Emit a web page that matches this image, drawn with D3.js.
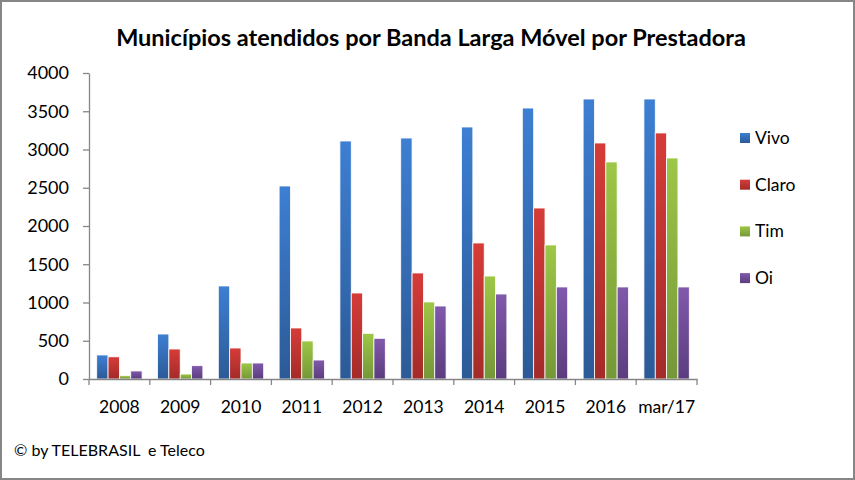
<!DOCTYPE html>
<html><head><meta charset="utf-8">
<script src="https://cdn.jsdelivr.net/npm/d3@7"></script>
<style>
html,body{margin:0;padding:0;background:#fff;}
text{font-family:Lato,"Open Sans",sans-serif;fill:#000;}
</style></head>
<body>
<svg id="chart" width="855" height="480"></svg>
<script>
const categories = ["2008","2009","2010","2011","2012","2013","2014","2015","2016","mar/17"];
const seriesNames = ["Vivo","Claro","Tim","Oi"];
const vivo  = [314, 588, 1216, 2523, 3111, 3150, 3294, 3542, 3660, 3660];
const claro = [290, 392, 405, 667, 1124, 1386, 1778, 2235, 3085, 3216];
const tim   = [43, 65, 209, 497, 597, 1007, 1346, 1752, 2837, 2889];
const oi    = [105, 174, 209, 248, 532, 954, 1111, 1203, 1203, 1203];
const yTicks = [0,500,1000,1500,2000,2500,3000,3500,4000];
const titleText = "Municípios atendidos por Banda Larga Móvel por Prestadora";
const footerText = "© by TELEBRASIL  e Teleco";

const seriesValues = [vivo, claro, tim, oi];
const colorsTop = ["#3d7fd3","#d63c38","#9dc746","#8159ac"];
const colorsBot = ["#2c5a96","#a32b29","#759738","#5b3d7e"];

const svg = d3.select("#chart");
svg.append("rect").attr("x",1).attr("y",1).attr("width",853).attr("height",478)
  .attr("fill","#fff").attr("stroke","#868686").attr("stroke-width",2);

const defs = svg.append("defs");
seriesNames.forEach((s,i)=>{
  const g = defs.append("linearGradient").attr("id","g"+i)
    .attr("x1",0).attr("y1",0).attr("x2",0).attr("y2",1);
  g.append("stop").attr("offset","0%").attr("stop-color",colorsTop[i]);
  g.append("stop").attr("offset","100%").attr("stop-color",colorsBot[i]);
});

const x = d3.scaleBand().domain(categories).range([89,697]).paddingInner(0).paddingOuter(0);
const bw = x.bandwidth();
const xs = d3.scaleBand().domain(seriesNames).range([bw*0.127, bw*0.873]).padding(0);
const y = d3.scaleLinear().domain([0,4000]).range([379,73]);

// bars
seriesNames.forEach((s,i)=>{
  svg.append("g").selectAll("rect").data(categories).join("rect")
    .attr("x", c => x(c) + xs(s))
    .attr("y", (c,j) => y(seriesValues[i][j]))
    .attr("width", xs.bandwidth())
    .attr("height", (c,j) => y(0) - y(seriesValues[i][j]))
    .attr("fill","url(#g"+i+")")
    .attr("stroke","#fff").attr("stroke-width",0.8);
});

// y axis
const yAxis = svg.append("g").attr("transform","translate(89,0)")
  .call(d3.axisLeft(y).tickValues(yTicks).tickSizeInner(6).tickSizeOuter(0).tickPadding(14).tickFormat(d3.format("d")));
yAxis.selectAll("line,path").attr("stroke","#868686").attr("stroke-width",1.3);
yAxis.selectAll("text").attr("font-size","18px").style("font-family","Lato,sans-serif").attr("fill","#000");

// x axis
const xAxis = svg.append("g").attr("transform","translate(0,379)")
  .call(d3.axisBottom(x).tickSize(0).tickPadding(22));
xAxis.select("path").attr("stroke","#868686").attr("stroke-width",1.3);
xAxis.selectAll("text").attr("font-size","17.5px").style("font-family","Lato,sans-serif").attr("fill","#000");
const bounds = categories.map(c => x(c)).concat([x.range()[1]]);
svg.append("g").selectAll("line").data(bounds).join("line")
  .attr("x1",d=>d).attr("x2",d=>d).attr("y1",379).attr("y2",385)
  .attr("stroke","#868686").attr("stroke-width",1.3);

// title
svg.append("text").attr("x",431).attr("y",46).attr("text-anchor","middle")
  .attr("font-size","23.5px").attr("font-weight","bold").text(titleText);

// legend
const lg = svg.append("g");
seriesNames.forEach((s,i)=>{
  const cy = 138 + i*46.7;
  lg.append("rect").attr("x",740).attr("y",cy-5).attr("width",10).attr("height",10)
    .attr("fill","url(#g"+i+")");
  lg.append("text").attr("x",755).attr("y",cy+6).attr("font-size","17.5px").text(s);
});

// footer
svg.append("text").attr("x",14).attr("y",456).attr("font-size","16px")
  .style("white-space","pre").text(footerText);
</script>
</body></html>
